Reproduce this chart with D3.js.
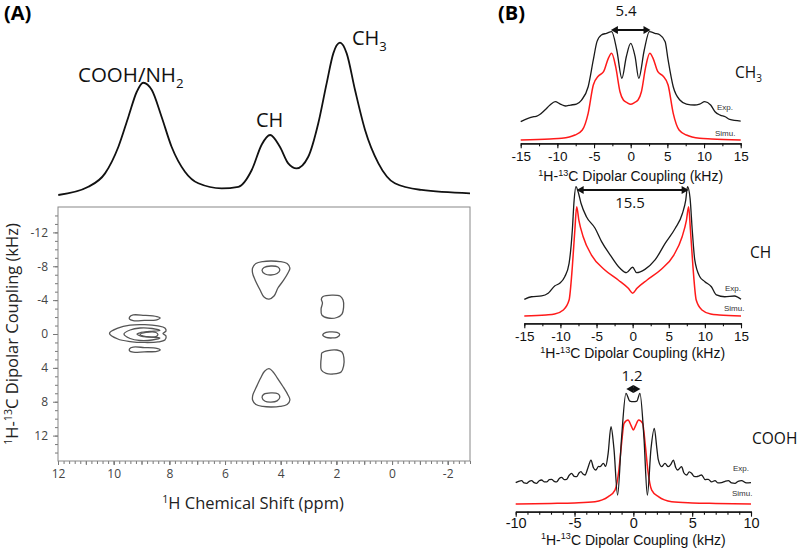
<!DOCTYPE html>
<html><head><meta charset="utf-8">
<script src="https://cdn.jsdelivr.net/npm/d3@7"></script>
<style>body{margin:0;background:#fff}svg{display:block}</style>
</head><body>
<svg id="c" width="800" height="550"></svg>
<script>
// ---------------- DATA ----------------
// Panel A: 1D projection  [ppm, intensity]
const spec1D = [[11.99,0],[10.91,5.4],[10.31,14.2],[9.83,31.7],[9.47,51.4],[9.17,67.8],[8.94,73.7],[8.63,68.9],[8.28,51.4],[7.92,31.7],[7.44,15.3],[6.96,7.7],[6.12,4.4],[5.52,5.4],[5.04,16.4],[4.68,33.2],[4.38,39.4],[4.03,31.7],[3.73,20.8],[3.43,17.5],[3.01,25.1],[2.65,47.1],[2.35,73.3],[2.11,93.0],[1.87,100],[1.63,93.0],[1.33,68.9],[0.97,42.7],[0.49,20.8],[-0.10,7.7],[-1.06,3.3],[-2.8,1.1]];
const ppmDomain = [12, -2.8];
const kHzDomain = [-15, 15];
const ppmTickLabels = [12,10,8,6,4,2,0,-2];
const kHzTickLabels = [-12,-8,-4,0,4,8,12];
// Panel A: 2D contour lines [ppm, kHz]
const coohOuter = [[10.15,-0.1],[9.85,-0.7],[9.41,-1.05],[8.88,-1.1],[8.41,-0.95],[8.16,-0.7],[8.12,-0.35],[8.23,-0.06],[8.12,0.24],[8.16,0.71],[8.41,0.94],[8.88,1.0],[9.41,0.89],[9.85,0.59]];
const coohMiddle = [[9.63,0],[9.41,-0.47],[9.05,-0.71],[8.62,-0.65],[8.34,-0.41],[8.70,-0.3],[9.02,-0.18],[9.16,0],[9.02,0.24],[8.70,0.35],[8.34,0.47],[8.62,0.71],[9.05,0.77],[9.41,0.53]];
const coohInner = [[9.05,0.06],[8.84,-0.18],[8.48,-0.18],[8.41,0.06],[8.48,0.3],[8.84,0.3]];
const coohUpper = [[9.43,-2.0],[9.3,-2.25],[8.9,-2.2],[8.45,-2.05],[8.33,-1.9],[8.45,-1.68],[8.9,-1.6],[9.3,-1.58],[9.43,-1.75]];
const coohLower = [[9.43,1.75],[9.3,1.55],[8.9,1.6],[8.45,1.7],[8.33,1.88],[8.45,2.05],[8.9,2.1],[9.3,2.15],[9.43,2.0]];
const chTopOuter = [[5.01,-7.79],[4.89,-8.32],[4.64,-8.56],[4.35,-8.62],[4.03,-8.56],[3.77,-8.32],[3.67,-7.79],[3.74,-7.2],[3.89,-6.38],[4.10,-5.43],[4.24,-4.49],[4.42,-4.13],[4.60,-4.37],[4.74,-5.19],[4.92,-6.38],[5.01,-7.2]];
const chTopInner = [[4.67,-7.5],[4.6,-7.85],[4.35,-8.03],[4.1,-7.91],[4.03,-7.56],[4.13,-7.14],[4.35,-6.97],[4.56,-7.08]];
const chBotOuter = [[5.01,7.79],[4.89,8.32],[4.64,8.56],[4.35,8.62],[4.03,8.56],[3.77,8.32],[3.67,7.79],[3.74,7.2],[3.92,6.2],[4.12,5.2],[4.28,4.45],[4.42,4.1],[4.58,4.4],[4.72,5.2],[4.88,6.3],[5.0,7.2]];
const chBotInner = [[4.67,7.5],[4.6,7.1],[4.35,6.95],[4.1,7.05],[4.03,7.45],[4.13,7.9],[4.35,8.05],[4.56,7.95]];
const ch3Top = [[2.48,-4.43],[2.16,-4.6],[1.87,-4.49],[1.76,-4.01],[1.74,-3.19],[1.80,-2.36],[1.98,-1.95],[2.30,-1.89],[2.52,-2.24],[2.55,-2.95],[2.50,-3.66],[2.54,-4.13]];
const ch3Mid = [[2.49,0.12],[2.37,-0.2],[2.18,-0.24],[1.98,-0.18],[1.88,0.06],[1.98,0.39],[2.18,0.47],[2.37,0.41]];
const ch3Bot = [[2.52,2.24],[2.30,1.95],[1.98,1.89],[1.80,2.13],[1.73,2.83],[1.74,3.78],[1.83,4.49],[2.09,4.72],[2.37,4.66],[2.54,4.25],[2.56,3.42],[2.54,2.72]];

// Panel B: dipolar slices [kHz, normalised intensity]
const ch3Exp = [[-15,0.17],[-14,0.20],[-13.2,0.215],[-12.8,0.22],[-12.4,0.235],[-11.7,0.277],[-11,0.323],[-10.3,0.354],[-9.6,0.332],[-8.9,0.314],[-8.2,0.323],[-7.4,0.332],[-6.7,0.369],[-5.8,0.492],[-5.1,0.739],[-4.6,0.908],[-4.0,0.970],[-3.3,0.985],[-2.6,1.0],[-1.9,0.831],[-1.2,0.57],[-0.6,0.769],[0,0.893],[0.6,0.769],[1.1,0.57],[1.85,0.831],[2.55,1.0],[3.3,0.985],[4.0,0.970],[4.7,0.908],[5.1,0.739],[5.8,0.492],[6.7,0.369],[7.6,0.332],[8.7,0.323],[9.4,0.332],[10.1,0.354],[10.9,0.323],[11.5,0.261],[12.2,0.23],[12.9,0.215],[13.5,0.19],[15,0.175]];
const ch3Sim = [[-15,0],[-11,0.01],[-9.4,0.016],[-7.6,0.046],[-6.6,0.092],[-5.8,0.246],[-5.1,0.508],[-4.4,0.591],[-3.7,0.631],[-3.05,0.754],[-2.6,0.80],[-2.05,0.677],[-1.46,0.446],[-1.0,0.369],[-0.5,0.345],[0,0.33],[0.5,0.345],[1.0,0.369],[1.46,0.446],[2.05,0.677],[2.6,0.80],[3.05,0.754],[3.7,0.631],[4.4,0.591],[5.1,0.508],[5.8,0.246],[6.6,0.092],[7.6,0.046],[9.4,0.016],[11,0.01],[15,0]];
const chExp = [[-15,0.128],[-14,0.148],[-12.6,0.154],[-11.7,0.175],[-10.8,0.231],[-10.1,0.252],[-9.4,0.302],[-8.8,0.405],[-8.35,0.662],[-8.1,0.892],[-7.85,0.995],[-7.55,0.956],[-7.15,0.867],[-6.4,0.764],[-5.2,0.675],[-4.3,0.572],[-3.1,0.469],[-1.75,0.367],[-0.85,0.333],[0,0.375],[0.55,0.333],[1.7,0.359],[3.1,0.431],[4.5,0.559],[5.9,0.675],[6.9,0.79],[7.35,0.892],[7.6,0.995],[7.95,0.905],[8.25,0.662],[8.6,0.431],[9.3,0.302],[10.0,0.264],[10.9,0.225],[11.6,0.162],[12.75,0.148],[14.1,0.154],[15,0.128]];
const chSim = [[-15,0],[-12,0.008],[-10.8,0.015],[-9.6,0.046],[-8.8,0.123],[-8.35,0.379],[-8.0,0.662],[-7.75,0.841],[-7.45,0.738],[-6.85,0.61],[-5.7,0.469],[-3.85,0.354],[-2.0,0.277],[-0.6,0.213],[0,0.175],[0.6,0.213],[2.0,0.277],[3.85,0.354],[5.7,0.469],[6.85,0.61],[7.45,0.738],[7.75,0.841],[8.0,0.662],[8.35,0.379],[8.8,0.123],[9.6,0.046],[10.8,0.015],[12,0.008],[15,0]];
const coohExp = [[-10,0.193],[-9.75,0.205],[-9.5,0.211],[-9.28,0.19],[-9.07,0.187],[-8.85,0.205],[-8.65,0.211],[-8.43,0.193],[-8.22,0.187],[-8.0,0.21],[-7.8,0.217],[-7.58,0.2],[-7.37,0.199],[-7.15,0.22],[-6.95,0.223],[-6.73,0.205],[-6.52,0.199],[-6.3,0.23],[-6.1,0.241],[-5.88,0.22],[-5.67,0.223],[-5.45,0.26],[-5.25,0.277],[-5.03,0.25],[-4.82,0.247],[-4.62,0.28],[-4.45,0.292],[-4.28,0.27],[-4.11,0.262],[-3.85,0.33],[-3.6,0.397],[-3.4,0.33],[-3.2,0.307],[-2.95,0.34],[-2.84,0.337],[-2.55,0.367],[-2.35,0.34],[-2.15,0.45],[-1.9,0.698],[-1.65,0.5],[-1.34,0.081],[-1.0,0.6],[-0.63,1.0],[-0.3,0.93],[0,0.924],[0.3,0.93],[0.56,1.0],[0.9,0.6],[1.19,0.081],[1.5,0.5],[1.78,0.684],[2.0,0.5],[2.12,0.4],[2.4,0.337],[2.69,0.367],[2.97,0.337],[3.2,0.36],[3.4,0.397],[3.6,0.33],[3.76,0.307],[4.1,0.337],[4.3,0.28],[4.53,0.262],[4.75,0.29],[4.95,0.277],[5.15,0.25],[5.38,0.247],[5.6,0.255],[5.8,0.262],[6.1,0.22],[6.37,0.223],[6.65,0.2],[6.94,0.211],[7.2,0.19],[7.5,0.193],[7.8,0.205],[8.07,0.211],[8.35,0.19],[8.64,0.187],[8.9,0.205],[9.2,0.211],[9.6,0.19],[10,0.193]];
const coohSim = [[-10,0],[-7,0.005],[-5,0.01],[-3.26,0.021],[-2.13,0.066],[-1.56,0.126],[-1.23,0.307],[-1.0,0.548],[-0.79,0.729],[-0.45,0.759],[-0.2,0.71],[0,0.668],[0.2,0.71],[0.45,0.759],[0.79,0.729],[1.0,0.548],[1.23,0.307],[1.56,0.126],[2.13,0.066],[3.26,0.021],[5,0.01],[7,0.005],[10,0]];
const splittings = [5.4, 15.5, 1.2];
const groupNames = [["CH","3"],["CH",""],["COOH",""]];

// ---------------- DRAWING ----------------
const svg = d3.select("#c");
const FA = "'Open Sans', sans-serif";
const FB = "'Liberation Sans', Arial, sans-serif";

function rich(t, parts, fs) {
  let shift = 0;
  parts.forEach(([s, m]) => {
    const target = m === 1 ? -0.38 * fs : m === -1 ? 0.28 * fs : 0;
    t.append("tspan").attr("dy", target - shift).attr("font-size", m ? fs * 0.65 : fs).text(s);
    shift = target;
  });
  return t;
}

// ---- Panel A ----
const xA = d3.scaleLinear().domain(ppmDomain).range([58, 470]);
const yA = d3.scaleLinear().domain(kHzDomain).range([207, 461]);
const yS = d3.scaleLinear().domain([0, 100]).range([195, 42.7]);
const gA = svg.append("g");

gA.append("path").datum(spec1D)
  .attr("d", d3.line().x(d => xA(d[0])).y(d => yS(d[1])).curve(d3.curveMonotoneX))
  .attr("fill", "none").attr("stroke", "#111").attr("stroke-width", 1.8);

svg.append("text").attr("x", 4).attr("y", 20).attr("font-family", FA).attr("font-weight", 700).attr("font-size", 20).text("(A)");
rich(svg.append("text").attr("x", 78).attr("y", 82).attr("font-family", FA).attr("fill", "#111"), [["COOH/NH",0],["2",-1]], 20.5);
rich(svg.append("text").attr("x", 256).attr("y", 127).attr("font-family", FA).attr("fill", "#111"), [["CH",0]], 20);
rich(svg.append("text").attr("x", 352).attr("y", 45).attr("font-family", FA).attr("fill", "#111"), [["CH",0],["3",-1]], 20);

// axes
const minorX = d3.range(-14, 61).map(i => +(i * 0.2).toFixed(1));
const axX1 = gA.append("g").attr("transform", "translate(0,461)")
  .call(d3.axisBottom(xA).tickValues(minorX).tickSize(3).tickFormat(""));
const axX2 = gA.append("g").attr("transform", "translate(0,461)")
  .call(d3.axisBottom(xA).tickValues(d3.range(-2, 13)).tickSize(4).tickFormat(""));
const axX3 = gA.append("g").attr("transform", "translate(0,461)")
  .call(d3.axisBottom(xA).tickValues(ppmTickLabels).tickSize(4).tickPadding(4).tickFormat(d => String(d)));
const axY1 = gA.append("g").attr("transform", "translate(58,0)")
  .call(d3.axisLeft(yA).tickValues(d3.range(-14, 15)).tickSize(3).tickFormat(""));
const axY2 = gA.append("g").attr("transform", "translate(58,0)")
  .call(d3.axisLeft(yA).tickValues(kHzTickLabels).tickSize(5).tickPadding(5).tickFormat(d => String(d)));
[axX1, axX2, axX3, axY1, axY2].forEach(a => {
  a.select(".domain").remove();
  a.selectAll("line").attr("stroke", "#777");
  a.selectAll("text").attr("font-family", FA).attr("font-size", 12).attr("fill", "#444");
});
gA.append("rect").attr("x", 58).attr("y", 207).attr("width", 412).attr("height", 254)
  .attr("fill", "none").attr("stroke", "#888").attr("stroke-width", 1);

rich(svg.append("text").attr("x", 253).attr("y", 509).attr("text-anchor", "middle").attr("font-family", FA).attr("fill", "#222"),
  [["1",1],["H Chemical Shift (ppm)",0]], 16.5);
rich(svg.append("text").attr("transform", "translate(18,334) rotate(-90)").attr("text-anchor", "middle").attr("font-family", FA).attr("fill", "#222"),
  [["1",1],["H-",0],["13",1],["C Dipolar Coupling (kHz)",0]], 16.5);

// contours
const contours = [coohOuter, coohMiddle, coohInner, coohUpper, coohLower, chTopOuter, chTopInner, chBotOuter, chBotInner, ch3Top, ch3Mid, ch3Bot];
const cl = d3.line().x(d => xA(d[0])).y(d => yA(d[1])).curve(d3.curveCatmullRomClosed.alpha(0.5));
gA.selectAll("path.ct").data(contours).join("path").attr("class", "ct")
  .attr("d", cl).attr("fill", "none").attr("stroke", "#555").attr("stroke-width", 1.3);

// ---- Panel B ----
svg.append("text").attr("x", 498).attr("y", 20).attr("font-family", FA).attr("font-weight", 700).attr("font-size", 20).text("(B)");

const panels = [
  {exp: ch3Exp, sim: ch3Sim, dom: [-15, 15], xr: [520.7, 740.7], axisY: 143.3, yr: [140, 31.7], minor: 2.5, tfs: 13.5, tpad: 3,
   labY: 181, labFs: 14, arrowY: 30, splitY: 16, splitX: 626, nameX: 735, nameY: 78, expX: 717, expY: 110, simX: 715, simY: 136},
  {exp: chExp, sim: chSim, dom: [-15, 15], xr: [524.3, 741], axisY: 323.3, yr: [316, 186], minor: 2.5, tfs: 13.5, tpad: 3,
   labY: 358, labFs: 14, arrowY: 190, splitY: 208, splitX: 630, nameX: 750, nameY: 258, expX: 725, expY: 291, simX: 724, simY: 311},
  {exp: coohExp, sim: coohSim, dom: [-10, 10], xr: [515.7, 751], axisY: 511.7, yr: [504, 393.3], minor: 1, tfs: 14.5, tpad: 1,
   labY: 544.5, labFs: 14, arrowY: 389, splitY: 381, splitX: 632, nameX: 752, nameY: 444, expX: 733, expY: 471, simX: 732, simY: 496}
];

panels.forEach((p, i) => {
  const x = d3.scaleLinear().domain(p.dom).range(p.xr);
  const y = d3.scaleLinear().domain([0, 1]).range(p.yr);
  const g = svg.append("g");
  const ln = d3.line().x(d => x(d[0])).y(d => y(d[1])).curve(d3.curveMonotoneX);
  g.append("path").datum(p.sim).attr("d", ln).attr("fill", "none").attr("stroke", "#ff1a1a").attr("stroke-width", 1.5);
  g.append("path").datum(p.exp).attr("d", ln).attr("fill", "none").attr("stroke", "#1a1a1a").attr("stroke-width", 1.3);

  const minorVals = d3.range(0, Math.round((p.dom[1] - p.dom[0]) / p.minor) + 1).map(k => p.dom[0] + k * p.minor);
  const a1 = g.append("g").attr("transform", `translate(0,${p.axisY})`)
    .call(d3.axisBottom(x).tickValues(minorVals).tickSize(3).tickSizeOuter(0).tickFormat(""));
  const a2 = g.append("g").attr("transform", `translate(0,${p.axisY})`)
    .call(d3.axisBottom(x).ticks(p.dom[1] === 15 ? 7 : 5).tickSize(5).tickSizeOuter(0).tickPadding(p.tpad).tickFormat(d => String(d)));
  [a1, a2].forEach(a => {
    a.select(".domain").attr("stroke", "#111").attr("stroke-width", 1.3);
    a.selectAll("line").attr("stroke", "#111").attr("stroke-width", 1.1);
    a.selectAll("text").attr("font-family", FB).attr("font-size", p.tfs).attr("fill", "#111");
  });
  rich(g.append("text").attr("x", (p.xr[0] + p.xr[1]) / 2).attr("y", p.labY).attr("text-anchor", "middle").attr("font-family", FB).attr("fill", "#111"),
    [["1",1],["H-",0],["13",1],["C Dipolar Coupling (kHz)",0]], p.labFs);

  // splitting arrow
  const s = splittings[i];
  const x1 = x(-s / 2), x2 = x(s / 2), ay = p.arrowY, hl = 7, hw = 4;
  g.append("line").attr("x1", x1 + hl - 1).attr("x2", x2 - hl + 1).attr("y1", ay).attr("y2", ay)
    .attr("stroke", "#111").attr("stroke-width", 2);
  g.append("path").attr("d", `M${x1},${ay}L${x1 + hl},${ay - hw}L${x1 + hl},${ay + hw}Z M${x2},${ay}L${x2 - hl},${ay - hw}L${x2 - hl},${ay + hw}Z`)
    .attr("fill", "#111");
  g.append("text").attr("x", p.splitX).attr("y", p.splitY).attr("text-anchor", "middle").attr("font-family", FA)
    .attr("font-size", 15).attr("fill", "#111").text(String(s));

  const nm = groupNames[i];
  rich(g.append("text").attr("x", p.nameX).attr("y", p.nameY).attr("font-family", FA).attr("fill", "#111"),
    nm[1] ? [[nm[0],0],[nm[1],-1]] : [[nm[0],0]], 15.5);
  g.append("text").attr("x", p.expX).attr("y", p.expY).attr("font-family", FB).attr("font-size", 8).attr("fill", "#333").text("Exp.");
  g.append("text").attr("x", p.simX).attr("y", p.simY).attr("font-family", FB).attr("font-size", 8).attr("fill", "#333").text("Simu.");
});
</script>
</body></html>
